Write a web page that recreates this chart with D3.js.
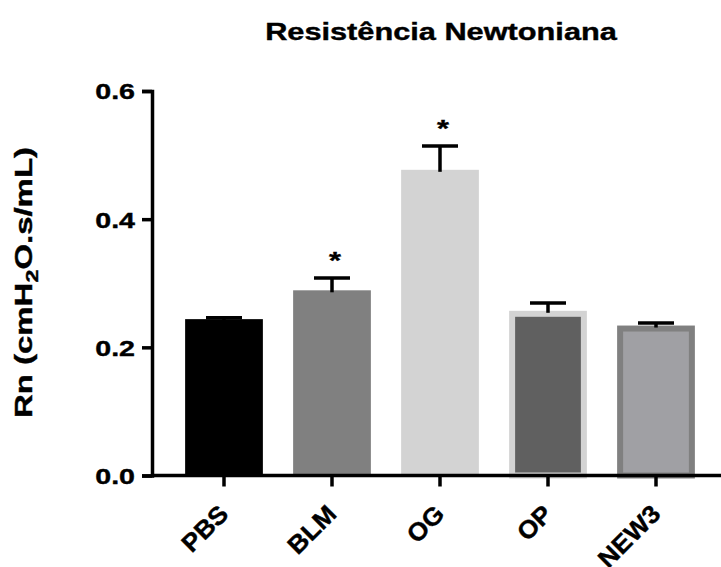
<!DOCTYPE html>
<html>
<head>
<meta charset="utf-8">
<script src="https://cdn.jsdelivr.net/npm/d3@7"></script>
<style>
  html, body { margin: 0; padding: 0; background: #fff; }
  text { font-family: "Liberation Sans", Arial, sans-serif; font-weight: bold; fill: #000;
         stroke: #000; stroke-width: 0.4px; }
</style>
</head>
<body>
<svg id="chart"></svg>
<script>
const width = 721;
const height = 567;

// Data
const categories = ["PBS", "BLM", "OG", "OP", "NEW3"];
const means = [0.244, 0.289, 0.477, 0.257, 0.234];
const sems = [0.002, 0.019, 0.037, 0.012, 0.004];
const significant = [false, true, true, false, false];
const yTicks = [0, 0.2, 0.4, 0.6];

// Bar styles
const fills = ["#000000", "#808080", "#d3d3d3", "#606060", "#a0a0a4"];
const borders = [null, null, null, "#d3d3d3", "#808080"];

const stretch = 1.28; // text in the picture is drawn wide

const svg = d3.select("#chart")
  .attr("width", width)
  .attr("height", height);

const x = d3.scaleBand()
  .domain(categories)
  .range([170, 710])
  .paddingInner(0.28)
  .paddingOuter(0.14);

const y = d3.scaleLinear()
  .domain([0, 0.6])
  .range([475.5, 91]);

const rows = categories.map((c, i) => ({
  name: c, mean: means[i], sem: sems[i], sig: significant[i],
  fill: fills[i], border: borders[i]
}));

// stretch a text element horizontally
function widen(sel, k) {
  sel.each(function() {
    const len = this.getComputedTextLength();
    d3.select(this)
      .attr("textLength", len * (k || stretch))
      .attr("lengthAdjust", "spacingAndGlyphs");
  });
}

// Bars
const bw = 6;
svg.append("g").selectAll("rect")
  .data(rows)
  .enter().append("rect")
  .attr("x", d => d.border ? x(d.name) + bw / 2 : x(d.name))
  .attr("y", d => d.border ? y(d.mean) + bw / 2 : y(d.mean))
  .attr("width", d => d.border ? x.bandwidth() - bw : x.bandwidth())
  .attr("height", d => d.border ? y(0) - y(d.mean) - bw / 2 : y(0) - y(d.mean))
  .attr("fill", d => d.fill)
  .attr("stroke", d => d.border || "none")
  .attr("stroke-width", bw);

// Error bars (upper only)
const err = svg.append("g")
  .attr("stroke", "#000")
  .attr("stroke-width", 3.5);

rows.forEach(d => {
  const cx = x(d.name) + x.bandwidth() / 2;
  err.append("line")
    .attr("x1", cx).attr("x2", cx)
    .attr("y1", y(d.mean) + 2).attr("y2", y(d.mean + d.sem));
  err.append("line")
    .attr("x1", cx - 18).attr("x2", cx + 18)
    .attr("y1", y(d.mean + d.sem)).attr("y2", y(d.mean + d.sem));
});

// Significance stars
svg.append("g").selectAll("text")
  .data(rows.filter(d => d.sig))
  .enter().append("text")
  .attr("x", d => x(d.name) + x.bandwidth() / 2 + 3)
  .attr("y", d => y(d.mean + d.sem) - 9)
  .attr("text-anchor", "middle")
  .style("font-size", "24px")
  .text("*")
  .call(widen);

// Y axis
const yAxis = svg.append("g")
  .attr("transform", "translate(152,0)")
  .call(d3.axisLeft(y)
    .tickValues(yTicks)
    .tickSize(10)
    .tickSizeOuter(10)
    .tickPadding(6)
    .tickFormat(d3.format(".1f")));

yAxis.select(".domain").attr("stroke-width", 3.5).attr("fill", "none");
yAxis.selectAll(".tick line").attr("stroke-width", 3.5);
yAxis.selectAll(".tick text")
  .attr("x", -17)
  .attr("dy", "0.36em")
  .style("font-size", "22px")
  .call(widen, 1.3);

// X axis
const xAxis = svg.append("g")
  .attr("transform", "translate(0,475.5)")
  .call(d3.axisBottom(x).tickSize(11).tickSizeOuter(0));

xAxis.select(".domain").remove();
xAxis.append("line")
  .attr("x1", 152).attr("x2", width)
  .attr("stroke", "#000")
  .attr("stroke-width", 3.5);
xAxis.selectAll(".tick line").attr("stroke-width", 3.5);
xAxis.selectAll(".tick text")
  .attr("y", 0)
  .attr("dy", 0)
  .attr("text-anchor", "end")
  .attr("transform", "translate(6,40) rotate(-45)")
  .style("font-size", "25px")
  .call(widen, 1.05);

svg.selectAll(".tick text").attr("font-family", null).attr("font-size", null);

// Title
svg.append("text")
  .attr("x", 441)
  .attr("y", 40)
  .attr("text-anchor", "middle")
  .style("font-size", "24px")
  .text("Resistência Newtoniana")
  .call(widen);

// Y label
const yLabel = svg.append("text")
  .attr("transform", "translate(32,282.5) rotate(-90)")
  .attr("text-anchor", "middle")
  .style("font-size", "24px")
  .attr("textLength", 271)
  .attr("lengthAdjust", "spacingAndGlyphs");
yLabel.append("tspan").text("Rn (cmH");
yLabel.append("tspan").attr("dy", 6).style("font-size", "17px").text("2");
yLabel.append("tspan").attr("dy", -6).text("O.s/mL)");
</script>
</body>
</html>
